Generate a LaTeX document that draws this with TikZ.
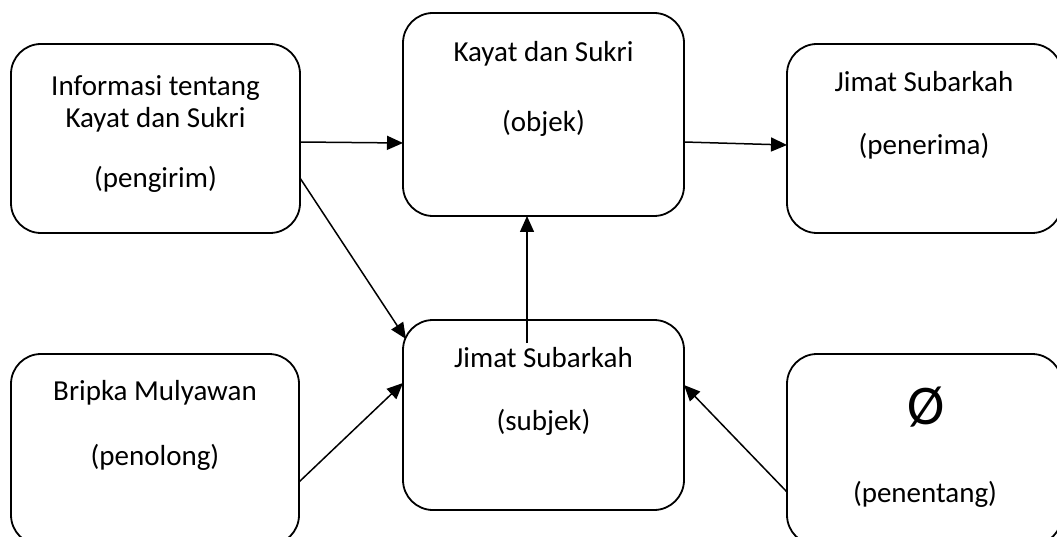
\documentclass[tikz,border=0pt]{standalone}
\usepackage{fontspec}
\setmainfont{Carlito}
\usetikzlibrary{arrows.meta,calc}
\begin{document}
\begin{tikzpicture}[x=1pt,y=-1pt,
  actor/.style={draw,line width=1.8pt,rounded corners=30pt,inner sep=0pt,outer sep=0pt},
  txt/.style={anchor=base,inner sep=0pt,font=\fontsize{29}{35}\selectfont},
  arr/.style={draw,line width=1.5pt,-{Triangle[length=16pt,width=14pt]}}]
\useasboundingbox (0,0) rectangle (1057,537);
\begin{scope}
\clip (0,0) rectangle (1057,537);
% actant boxes
\node[actor,minimum width=289pt,minimum height=189pt] (peng) at (155.5,138.5) {};
\node[actor,minimum width=281pt,minimum height=203pt] (obj) at (543.5,114.5) {};
\node[actor,minimum width=275pt,minimum height=189pt] (pen) at (924.5,138.5) {};
\node[actor,minimum width=281pt,minimum height=190pt] (sub) at (543.5,415) {};
\node[actor,minimum width=288pt,minimum height=191pt] (tol) at (155,449.5) {};
\node[actor,minimum width=275pt,minimum height=191pt] (ten) at (924.5,449.5) {};
\end{scope}
% labels
\node[txt] (peng1) at (155.5,96) {Informasi tentang};
\node[txt] (peng2) at (155.5,128) {Kayat dan Sukri};
\node[txt] (peng3) at (155.5,188) {(pengirim)};
\node[txt] (obj1) at (543.5,62) {Kayat dan Sukri};
\node[txt] (obj2) at (543.5,132) {(objek)};
\node[txt] (pen1) at (924,92) {Jimat Subarkah};
\node[txt] (pen2) at (924,155) {(penerima)};
\node[txt] (sub1) at (543.5,367) {Jimat Subarkah};
\node[txt] (sub2) at (543.5,430) {(subjek)};
\node[txt] (tol1) at (155,400) {Bripka Mulyawan};
\node[txt] (tol2) at (155,465) {(penolong)};
\node[txt,font=\fontsize{56}{64}\selectfont] (ten1) at (926,424) {Ø};
\node[txt] (ten2) at (925,502) {(penentang)};
% relations
\draw[arr] ($(peng.east)+(0,3.5)$) -- ($(obj.west)+(0,28.5)$);
\draw[arr] ($(obj.east)+(0,27.5)$) -- ($(pen.west)+(0,6.5)$);
\draw[arr] ($(peng.east)+(0,39.5)$) -- ($(sub.north west)+(3,19)$);
\draw[arr] ($(sub.north)+(-16.5,23)$) -- ($(obj.south)+(-16.5,0)$);
\draw[arr] ($(tol.east)+(0,32.5)$) -- ($(sub.west)+(0,-32)$);
\draw[arr] ($(ten.west)+(0,42.5)$) -- ($(sub.east)+(0,-30)$);
\end{tikzpicture}
\end{document}
